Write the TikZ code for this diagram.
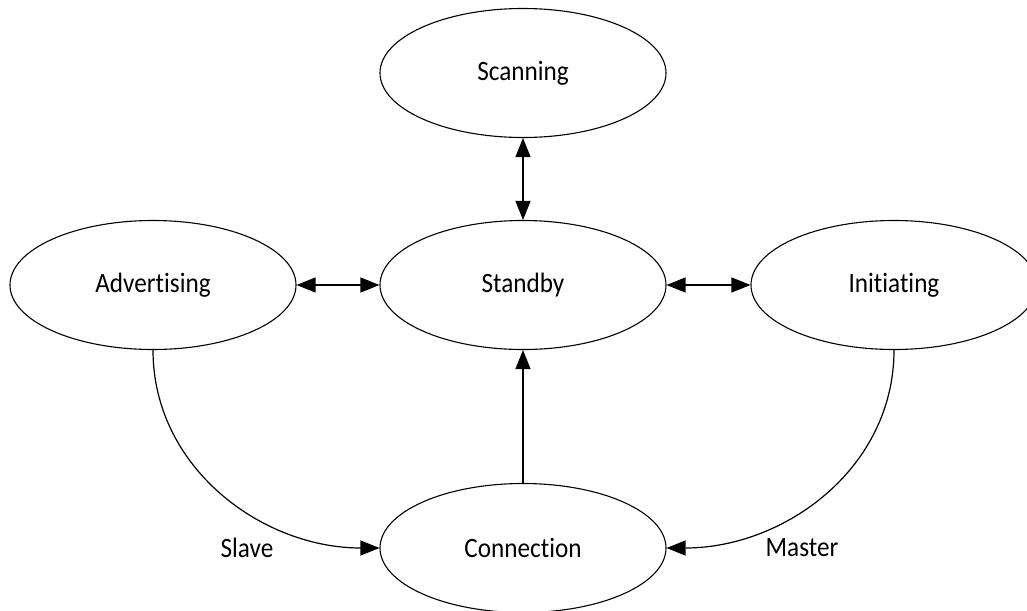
\documentclass[tikz,border=0pt]{standalone}
\usepackage{fontspec}
\setmainfont{Carlito}[FakeStretch=0.9,Ligatures={NoCommon,NoRare,NoDiscretionary}]
\usetikzlibrary{shapes.geometric,arrows.meta}
\begin{document}
\begin{tikzpicture}[x=1pt,y=-1pt,
  state/.style={ellipse,draw,line width=1.1pt,minimum width=286pt,minimum height=129pt,inner sep=0pt,
    font=\fontsize{28}{30}\selectfont},
  tip/.style={-{Triangle[length=19pt,width=15pt]}},
  both/.style={{Triangle[length=19pt,width=15pt]}-{Triangle[length=19pt,width=15pt]}},
  link/.style={line width=1.2pt},
  lbl/.style={font=\fontsize{28}{30}\selectfont,inner sep=0pt}]
\useasboundingbox (0,0) rectangle (1027,610);
\clip (0,0) rectangle (1027,610);

% states
\node[state] (scan) at (523,73)  {Scanning};
\node[state] (stby) at (523,285) {Standby};
\node[state] (adv)  at (153,285) {Advertising};
\node[state] (init) at (894,285) {Initiating};
\node[state] (conn) at (523,548) {Connection};

% transitions
\draw[link,both] (scan) -- (stby);
\draw[link,both] (adv) -- (stby);
\draw[link,both] (stby) -- (init);
\draw[link,tip] (conn) -- (stby);
\draw[link,tip] (adv.south) to[out=-90,in=180] (conn.west);
\draw[link,tip] (init.south) to[out=-90,in=0] (conn.east);

% role labels
\node[lbl] (slave)  at (247,548) {Slave};
\node[lbl] (master) at (802,548) {Master};
\end{tikzpicture}
\end{document}
